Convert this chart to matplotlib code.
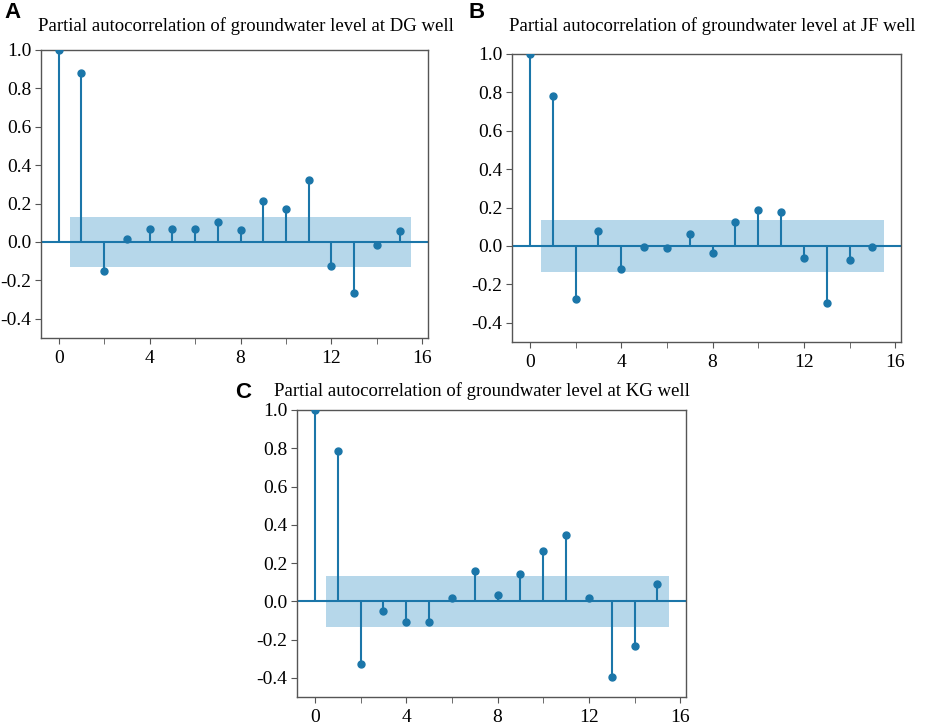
import matplotlib.pyplot as plt
import numpy as np

lags = np.arange(16)

pacf_dg = [1.0, 0.88, -0.153, 0.016, 0.068, 0.068, 0.068, 0.105, 0.065, 0.211,
           0.173, 0.325, -0.124, -0.267, -0.017, 0.056]
pacf_jf = [1.0, 0.78, -0.276, 0.078, -0.12, -0.007, -0.01, 0.061, -0.035, 0.127,
           0.1875, 0.175, -0.064, -0.295, -0.075, -0.003]
pacf_kg = [1.0, 0.786, -0.326, -0.049, -0.106, -0.106, 0.019, 0.157, 0.035, 0.143,
           0.265, 0.345, 0.019, -0.395, -0.233, 0.092]

conf = [0.132, 0.133, 0.132]
wells = ["DG", "JF", "KG"]
letters = ["A", "B", "C"]

stem_col = "#1b76a9"
band_col = "#b6d7ea"

W, H = 927, 725
fig = plt.figure(figsize=(W / 100, H / 100), dpi=100)

# axes boxes in pixels: left, top, right, bottom
boxes = [(41, 50, 428, 338), (512, 54, 901, 342), (297, 410, 686, 697)]
letter_pos = [(4, 12), (469, 12), (235, 393)]
title_pos = [(246, 31), (712, 31), (482, 396)]

for data, c, well, letter, box, lp, tp in zip(
        [pacf_dg, pacf_jf, pacf_kg], conf, wells, letters, boxes, letter_pos, title_pos):
    l, t, r, b = box
    ax = fig.add_axes([l / W, 1 - b / H, (r - l) / W, (b - t) / H])
    ax.fill_between([0.5, 15.5], -c, c, color=band_col, lw=0, zorder=1)
    ax.axhline(0, color=stem_col, lw=1.5, zorder=2)
    ax.vlines(lags, 0, data, color=stem_col, lw=1.5, zorder=3)
    ax.plot(lags, data, "o", color=stem_col, ms=5, zorder=4)
    ax.set_xlim(-0.78, 16.25)
    ax.set_ylim(-0.5, 1.0)
    ax.set_xticks([0, 4, 8, 12, 16])
    ax.set_xticks([2, 6, 10, 14], minor=True)
    ax.set_yticks([-0.4, -0.2, 0.0, 0.2, 0.4, 0.6, 0.8, 1.0])
    ax.set_yticklabels(["-0.4", "-0.2", "0.0", "0.2", "0.4", "0.6", "0.8", "1.0"])
    ax.tick_params(which="both", length=4, color="#555555", labelsize=14)
    ax.tick_params(axis="x", which="both", pad=4.5)
    ax.tick_params(axis="y", pad=3)
    for lab in ax.get_xticklabels() + ax.get_yticklabels():
        lab.set_family("Liberation Serif")
    for s in ax.spines.values():
        s.set_color("#555555")
        s.set_linewidth(1.0)
    fig.text(tp[0] / W, 1 - tp[1] / H,
             "Partial autocorrelation of groundwater level at %s well" % well,
             family="Liberation Serif", fontsize=13.5, ha="center", va="baseline")
    fig.text(lp[0] / W, 1 - lp[1] / H, letter, family="Liberation Sans",
             fontweight="bold", fontsize=16, ha="left", va="center")

fig.savefig("out.png", dpi=100)
